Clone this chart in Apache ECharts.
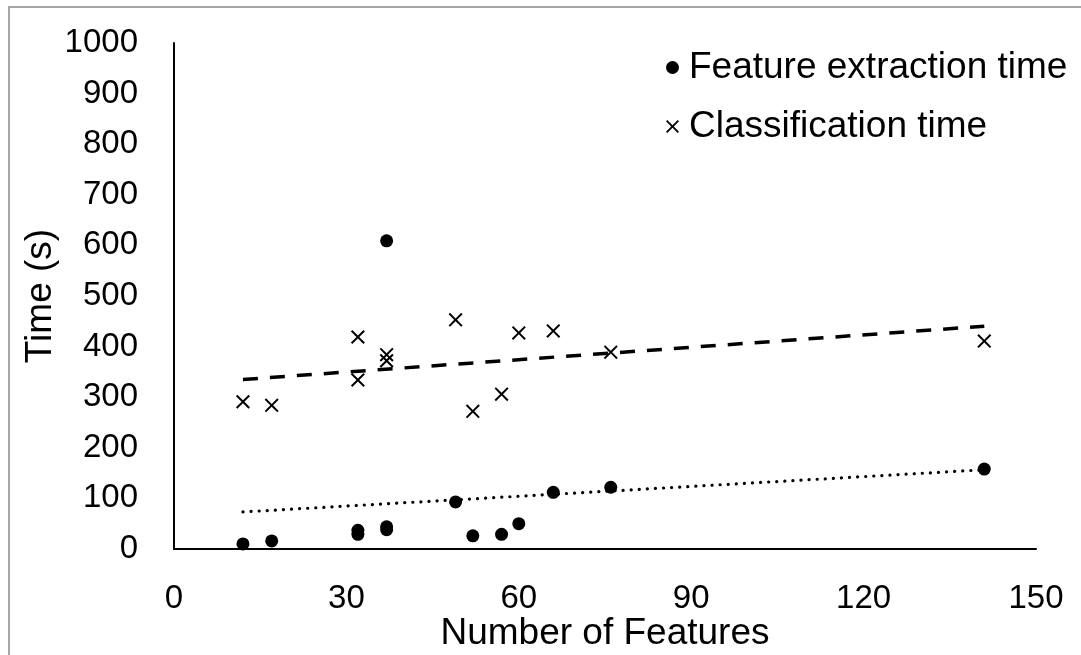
<!DOCTYPE html>
<html>
<head>
<meta charset="utf-8">
<script src="https://cdn.jsdelivr.net/npm/echarts@6/dist/echarts.min.js"></script>
<style>
  html, body { margin: 0; padding: 0; background: #fff; }
  #chart { width: 1081px; height: 655px; }
</style>
</head>
<body>
<div id="chart"></div>
<script>
// Number of features per feature set
const featureCounts = [12, 17, 32, 32, 37, 37, 37, 49, 52, 57, 60, 66, 76, 141];
// Feature extraction time (s), same order as featureCounts
const extractionTimes = [10, 16, 37, 29, 44, 38, 609, 93, 26, 29, 50, 112, 122, 158];
// Classification time (s)
const classificationCounts = [12, 17, 32, 32, 37, 37, 49, 52, 57, 60, 66, 76, 141];
const classificationTimes = [291, 284, 419, 334, 384, 372, 453, 272, 306, 427, 431, 389, 411];

const xTicks = [0, 30, 60, 90, 120, 150];
const yTicks = [0, 100, 200, 300, 400, 500, 600, 700, 800, 900, 1000];

const seriesNames = ['Feature extraction time', 'Classification time'];

// Ordinary least-squares fit, returned as the two end points over the data range
function linearTrend(xs, ys) {
  const n = xs.length;
  const mx = xs.reduce((a, b) => a + b, 0) / n;
  const my = ys.reduce((a, b) => a + b, 0) / n;
  let sxy = 0, sxx = 0;
  for (let i = 0; i < n; i++) {
    sxy += (xs[i] - mx) * (ys[i] - my);
    sxx += (xs[i] - mx) * (xs[i] - mx);
  }
  const slope = sxy / sxx;
  const icpt = my - slope * mx;
  const x0 = Math.min(...xs), x1 = Math.max(...xs);
  return [[x0, icpt + slope * x0], [x1, icpt + slope * x1]];
}

const pairs = (xs, ys) => xs.map((x, i) => [x, ys[i]]);

// Filled "x" glyph used for the classification markers
const crossPath = 'path://M1,0L5,4L9,0L10,1L6,5L10,9L9,10L5,6L1,10L0,9L4,5L0,1Z';

const font = 'Liberation Sans, Arial, sans-serif';
const plain = v => String(v);

const chart = echarts.init(document.getElementById('chart'), null, { renderer: 'canvas' });
chart.setOption({
  backgroundColor: '#ffffff',
  animation: false,
  textStyle: { fontFamily: font, color: '#000' },
  graphic: [{
    type: 'rect',
    shape: { x: 9, y: 7, width: 1090, height: 660 },
    style: { fill: 'none', stroke: '#a6a6a6', lineWidth: 2 },
    silent: true
  }],
  grid: { left: 174, right: 45, top: 43, bottom: 106, containLabel: false, outerBoundsMode: 'none' },
  legend: {
    orient: 'vertical',
    left: 661,
    top: 44,
    itemWidth: 13,
    itemHeight: 13,
    itemGap: 22,
    data: seriesNames,
    itemStyle: { opacity: 1 },
    textStyle: { fontSize: 37, fontFamily: font, color: '#000', padding: [0, 0, 0, 5] }
  },
  xAxis: {
    type: 'value',
    min: xTicks[0],
    max: xTicks[xTicks.length - 1],
    interval: 30,
    name: 'Number of Features',
    nameLocation: 'middle',
    nameGap: 66,
    nameMoveOverlap: false,
    nameTextStyle: { fontSize: 37, fontFamily: font, color: '#000' },
    axisLine: { show: true, lineStyle: { color: '#000', width: 2 } },
    axisTick: { show: false },
    splitLine: { show: false },
    axisLabel: { fontSize: 33, margin: 33, color: '#000', fontFamily: font, formatter: plain }
  },
  yAxis: {
    type: 'value',
    min: yTicks[0],
    max: yTicks[yTicks.length - 1],
    interval: 100,
    name: 'Time (s)',
    nameLocation: 'middle',
    nameGap: 115,
    nameMoveOverlap: false,
    nameTextStyle: { fontSize: 37, fontFamily: font, color: '#000' },
    axisLine: { show: true, lineStyle: { color: '#000', width: 2 } },
    axisTick: { show: false },
    splitLine: { show: false },
    axisLabel: { fontSize: 33, margin: 36, color: '#000', fontFamily: font, formatter: plain }
  },
  series: [
    {
      name: seriesNames[0],
      type: 'scatter',
      symbol: 'circle',
      symbolSize: 13,
      itemStyle: { color: '#000', opacity: 1 },
      data: pairs(featureCounts, extractionTimes),
      z: 3
    },
    {
      name: seriesNames[1],
      type: 'scatter',
      symbol: crossPath,
      symbolSize: 14,
      itemStyle: { color: '#000', opacity: 1 },
      data: pairs(classificationCounts, classificationTimes),
      z: 3
    },
    {
      name: 'extraction trend',
      type: 'line',
      showSymbol: false,
      symbol: 'none',
      silent: true,
      lineStyle: { color: '#000', width: 3.2, type: [0.1, 8], cap: 'round' },
      data: linearTrend(featureCounts, extractionTimes),
      z: 2
    },
    {
      name: 'classification trend',
      type: 'line',
      showSymbol: false,
      symbol: 'none',
      silent: true,
      lineStyle: { color: '#000', width: 3.5, type: [15, 12] },
      data: linearTrend(classificationCounts, classificationTimes),
      z: 2
    }
  ]
});
</script>
</body>
</html>
